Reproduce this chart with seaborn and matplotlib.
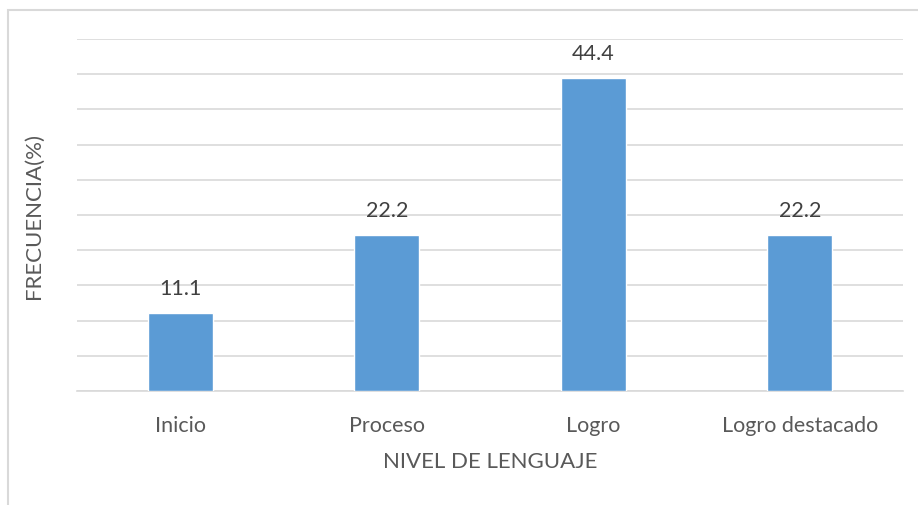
import matplotlib
matplotlib.use("Agg")
import matplotlib.pyplot as plt
import seaborn as sns
import pandas as pd
from matplotlib.patches import Rectangle

categories = ["Inicio", "Proceso", "Logro", "Logro destacado"]
values = [11.1, 22.2, 44.4, 22.2]
value_labels = ["11.1", "22.2", "44.4", "22.2"]

sns.set_theme(style="white")
plt.rcParams['font.family'] = ['Lato', 'DejaVu Sans']

df = pd.DataFrame({"nivel": categories, "freq": values})

fig = plt.figure(figsize=(9.18, 5.06), dpi=100)
ax = fig.add_axes([77/918, 1-392/506, (903-77)/918, (392-40)/506])

sns.barplot(data=df, x="nivel", y="freq", color="#5b9bd5", width=0.315,
            saturation=1, ax=ax, zorder=3)

ax.set_ylim(0, 50)
ax.set_yticks(range(0, 51, 5))
ax.yaxis.grid(True, color="#d9d9d9", linewidth=1.2, zorder=0)
ax.tick_params(axis='y', length=0, labelleft=False)
ax.tick_params(axis='x', length=0, labelsize=15.5, labelcolor="#595959", pad=17)
for s in ["top", "right", "left"]:
    ax.spines[s].set_visible(False)
ax.spines["bottom"].set_color("#d9d9d9")
ax.spines["bottom"].set_linewidth(1.2)

for p, lab in zip(ax.patches, value_labels):
    ax.annotate(lab, (p.get_x() + p.get_width()/2, p.get_height()),
                xytext=(0, 18), textcoords="offset points",
                ha="center", va="center", fontsize=15.5, color="#404040")

ax.set_xlabel("NIVEL DE LENGUAJE", fontsize=16, color="#595959", labelpad=12)
ax.set_ylabel("FRECUENCIA(%)", fontsize=16, color="#595959", labelpad=24)

fig.patches.append(Rectangle((7.5/918, -0.1), 1.2, 1 - 10.5/506 + 0.1,
                             transform=fig.transFigure, fill=False,
                             edgecolor="#d9d9d9", linewidth=1.5))

fig.savefig("out.png", dpi=100)
